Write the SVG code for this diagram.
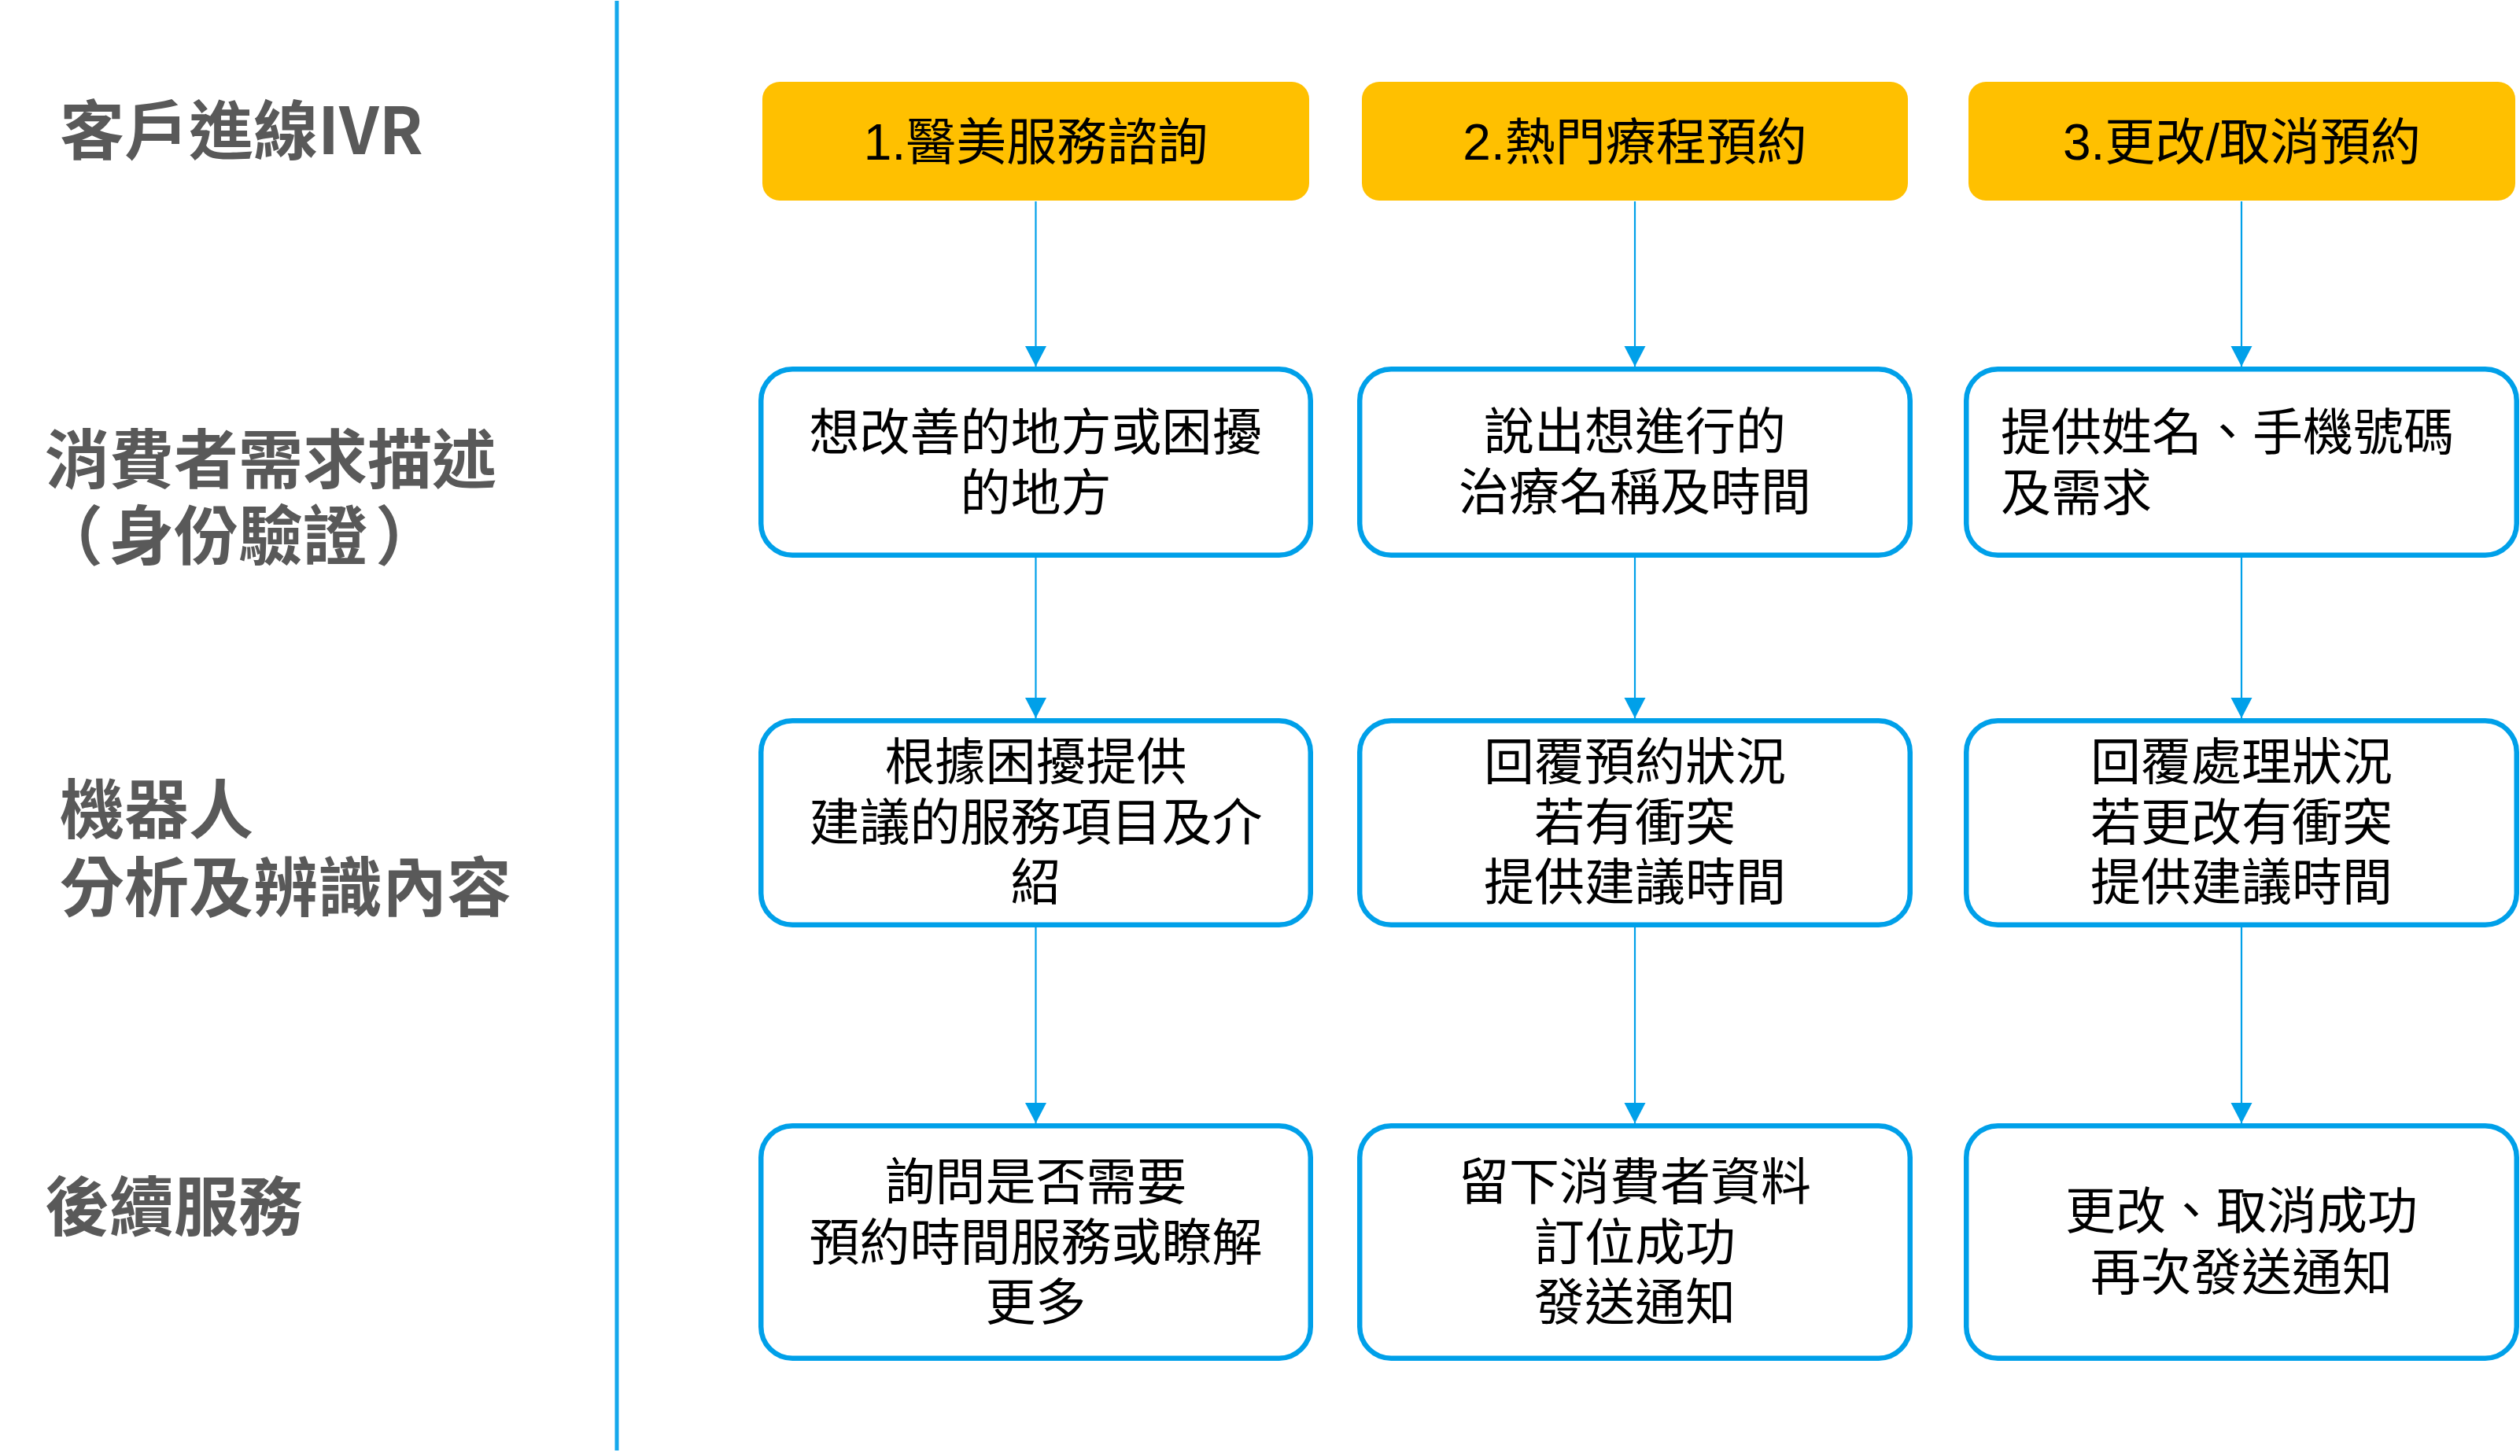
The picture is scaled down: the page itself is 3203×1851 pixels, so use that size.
<svg xmlns="http://www.w3.org/2000/svg" width="3203" height="1851" viewBox="0 0 3203 1851">
<defs>
<style>
.lbl{font-family:"Noto Sans CJK TC","Noto Sans CJK SC",sans-serif;font-weight:bold;font-size:82px;fill:#595959}
.hd{fill:#FFC000}
.bx{fill:#FFFFFF;stroke:#00A0E9;stroke-width:6.5}
.t{font-family:"Liberation Sans","Noto Sans CJK TC",sans-serif;font-size:64px;fill:#000000;text-anchor:middle}
.tl{font-family:"Liberation Sans","Noto Sans CJK TC",sans-serif;font-size:64px;fill:#000000;text-anchor:start}
.c{stroke:#00A0E9;stroke-width:2.2;fill:none}
</style>
<marker id="ah" markerUnits="userSpaceOnUse" markerWidth="28" markerHeight="28" refX="26" refY="14" orient="auto">
<path d="M0,0.5 L26,14 L0,27.5 Z" fill="#00A0E9"/>
</marker>
</defs>
<rect x="0" y="0" width="3203" height="1851" fill="#FFFFFF"/>

<g id="lanes">
<line x1="784" y1="1" x2="784" y2="1844" stroke="#14A8EC" stroke-width="5"/>
<text class="lbl" x="76" y="196">客戶進線IVR</text>
<text class="lbl" x="57" y="614">消費者需求描述</text>
<text class="lbl" x="49 139 221 303 385 477" y="711">（身份驗證）</text>
<text class="lbl" x="76" y="1059">機器人</text>
<text class="lbl" x="76" y="1158">分析及辨識內容</text>
<text class="lbl" x="57" y="1564">後續服務</text>
</g>

<g id="connectors">
<line class="c" x1="1316.5" y1="256" x2="1316.5" y2="466" marker-end="url(#ah)"/>
<line class="c" x1="1316.5" y1="709" x2="1316.5" y2="913" marker-end="url(#ah)"/>
<line class="c" x1="1316.5" y1="1179" x2="1316.5" y2="1428" marker-end="url(#ah)"/>
<line class="c" x1="2078" y1="256" x2="2078" y2="466" marker-end="url(#ah)"/>
<line class="c" x1="2078" y1="709" x2="2078" y2="913" marker-end="url(#ah)"/>
<line class="c" x1="2078" y1="1179" x2="2078" y2="1428" marker-end="url(#ah)"/>
<line class="c" x1="2849" y1="256" x2="2849" y2="466" marker-end="url(#ah)"/>
<line class="c" x1="2849" y1="709" x2="2849" y2="913" marker-end="url(#ah)"/>
<line class="c" x1="2849" y1="1179" x2="2849" y2="1428" marker-end="url(#ah)"/>
</g>

<g id="h1">
<rect class="hd" x="969" y="104" width="695" height="151" rx="22"/>
<text class="t" x="1316.5" y="203">1.醫美服務諮詢</text>
</g>
<g id="h2">
<rect class="hd" x="1731" y="104" width="694" height="151" rx="22"/>
<text class="t" x="2078" y="203">2.熱門療程預約</text>
</g>
<g id="h3">
<rect class="hd" x="2502" y="104" width="695" height="151" rx="22"/>
<text class="t" x="2849.5" y="203">3.更改/取消預約</text>
</g>

<g id="n1a">
<rect class="bx" x="967.25" y="469.25" width="698.5" height="236.5" rx="40"/>
<text class="t" x="1316.5" y="572">想改善的地方或困擾</text>
<text class="t" x="1316.5" y="649">的地方</text>
</g>
<g id="n1b">
<rect class="bx" x="967.25" y="916.25" width="698.5" height="259.5" rx="40"/>
<text class="t" x="1316.5" y="991">根據困擾提供</text>
<text class="t" x="1316.5" y="1068">建議的服務項目及介</text>
<text class="t" x="1316.5" y="1144">紹</text>
</g>
<g id="n1c">
<rect class="bx" x="967.25" y="1431.25" width="698.5" height="295.5" rx="40"/>
<text class="t" x="1316.5" y="1525">詢問是否需要</text>
<text class="t" x="1316.5" y="1602">預約時間服務或瞭解</text>
<text class="t" x="1316.5" y="1678">更多</text>
</g>

<g id="n2a">
<rect class="bx" x="1728.25" y="469.25" width="699.5" height="236.5" rx="40"/>
<text class="t" x="2078" y="571">說出想進行的</text>
<text class="t" x="2078" y="648">治療名稱及時間</text>
</g>
<g id="n2b">
<rect class="bx" x="1728.25" y="916.25" width="699.5" height="259.5" rx="40"/>
<text class="t" x="2078" y="991">回覆預約狀況</text>
<text class="t" x="2078" y="1068">若有衝突</text>
<text class="t" x="2078" y="1144">提供建議時間</text>
</g>
<g id="n2c">
<rect class="bx" x="1728.25" y="1431.25" width="699.5" height="295.5" rx="40"/>
<text class="t" x="2078" y="1525">留下消費者資料</text>
<text class="t" x="2078" y="1602">訂位成功</text>
<text class="t" x="2078" y="1678">發送通知</text>
</g>

<g id="n3a">
<rect class="bx" x="2499.25" y="469.25" width="699.5" height="236.5" rx="40"/>
<text class="tl" x="2543" y="572">提供姓名、手機號碼</text>
<text class="tl" x="2543" y="649">及需求</text>
</g>
<g id="n3b">
<rect class="bx" x="2499.25" y="916.25" width="699.5" height="259.5" rx="40"/>
<text class="t" x="2849" y="991">回覆處理狀況</text>
<text class="t" x="2849" y="1068">若更改有衝突</text>
<text class="t" x="2849" y="1144">提供建議時間</text>
</g>
<g id="n3c">
<rect class="bx" x="2499.25" y="1431.25" width="699.5" height="295.5" rx="40"/>
<text class="t" x="2849" y="1562">更改、取消成功</text>
<text class="t" x="2849" y="1640">再次發送通知</text>
</g>
</svg>
